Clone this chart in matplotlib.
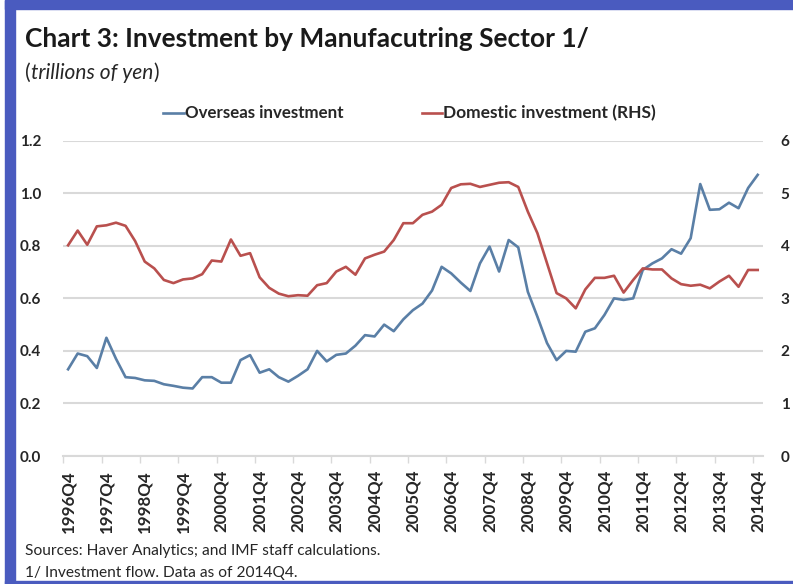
import matplotlib
matplotlib.use("Agg")
import matplotlib.pyplot as plt
from matplotlib.patches import Rectangle
from matplotlib.lines import Line2D

plt.rcParams["font.family"] = ["Lato", "DejaVu Sans"]

# Quarterly data, 1996Q4 - 2014Q4 (trillions of yen)
overseas = [
    0.33, 0.39, 0.38, 0.335, 0.45, 0.37, 0.30, 0.297, 0.288, 0.286,
    0.273, 0.267, 0.26, 0.257, 0.30, 0.30, 0.279, 0.279, 0.365, 0.384,
    0.317, 0.33, 0.30, 0.283, 0.305, 0.33, 0.40, 0.36, 0.385, 0.39,
    0.42, 0.46, 0.455, 0.50, 0.475, 0.52, 0.555, 0.58, 0.63, 0.72,
    0.695, 0.66, 0.628, 0.733, 0.797, 0.702, 0.822, 0.794, 0.625, 0.53,
    0.43, 0.365, 0.40, 0.397, 0.473, 0.486, 0.537, 0.60, 0.594, 0.60,
    0.708, 0.733, 0.752, 0.787, 0.77, 0.829, 1.035, 0.937, 0.939, 0.964,
    0.943, 1.02, 1.07,
]
domestic = [
    4.01, 4.29, 4.02, 4.37, 4.39, 4.44, 4.38, 4.09, 3.70, 3.57,
    3.35, 3.29, 3.36, 3.38, 3.46, 3.72, 3.70, 4.12, 3.81, 3.86,
    3.40, 3.20, 3.09, 3.04, 3.06, 3.05, 3.25, 3.29, 3.51, 3.60,
    3.45, 3.76, 3.83, 3.89, 4.11, 4.43, 4.43, 4.59, 4.65, 4.78,
    5.10, 5.17, 5.18, 5.12, 5.16, 5.20, 5.21, 5.12, 4.65, 4.24,
    3.67, 3.10, 3.00, 2.81, 3.17, 3.39, 3.39, 3.43, 3.11, 3.35,
    3.57, 3.55, 3.55, 3.38, 3.27, 3.24, 3.26, 3.19, 3.32, 3.43,
    3.22, 3.54, 3.54,
]
tick_labels = [
    "1996Q4", "1997Q4", "1998Q4", "1999Q4", "2000Q4", "2001Q4", "2002Q4",
    "2003Q4", "2004Q4", "2005Q4", "2006Q4", "2007Q4", "2008Q4", "2009Q4",
    "2010Q4", "2011Q4", "2012Q4", "2013Q4", "2014Q4",
]

blue = "#5a7fa6"
red = "#b9504e"
grid = "#d9d9d9"
txt = "#262626"
frame = "#4a5bbf"

W, H = 793, 584
fig = plt.figure(figsize=(W / 100, H / 100), dpi=100)
fig.patch.set_facecolor("white")


def fx(px):
    return px / W


def fy(py):
    return 1 - py / H


# blue frame on top, left and bottom
fig.patches.append(Rectangle((fx(5), fy(9)), 1, 9 / H, transform=fig.transFigure,
                             color=frame, zorder=0))
fig.patches.append(Rectangle((fx(5), 0), 10 / W, 1, transform=fig.transFigure,
                             color=frame, zorder=0))
fig.patches.append(Rectangle((fx(5), 0), 1, 3 / H, transform=fig.transFigure,
                             color=frame, zorder=0))

ax = fig.add_axes([fx(63.3), fy(456), 699.2 / W, 315.3 / H])
ax2 = ax.twinx()

x = list(range(len(overseas)))
ax.plot(x, overseas, color=blue, lw=1.9, zorder=3)
ax2.plot(x, domestic, color=red, lw=1.9, zorder=3)

ax.set_xlim(-0.5, len(overseas) - 0.5)
ax.set_ylim(0, 1.2)
ax2.set_ylim(0, 6)
ax.set_yticks([0, 0.2, 0.4, 0.6, 0.8, 1.0, 1.2])
ax.set_yticklabels(["0.0", "0.2", "0.4", "0.6", "0.8", "1.0", "1.2"])
ax2.set_yticks([0, 1, 2, 3, 4, 5, 6])

# labels sit on the category, tick marks between categories
ax.set_xticks([4 * k for k in range(len(tick_labels))])
ax.set_xticklabels(tick_labels, rotation=90)
ax.set_xticks([4 * k - 0.5 for k in range(len(tick_labels))], minor=True)

for a in (ax, ax2):
    for s in a.spines.values():
        s.set_visible(False)
ax.spines["bottom"].set_visible(True)
ax.spines["bottom"].set_color(grid)
ax.spines["bottom"].set_linewidth(1.5)
ax.grid(axis="y", color=grid, lw=1.5, zorder=0)
ax.set_axisbelow(True)

ax.tick_params(axis="x", which="major", length=0, pad=10,
               labelsize=12.2, labelcolor=txt)
ax.tick_params(axis="x", which="minor", length=5, width=1, color=grid)
ax.tick_params(axis="y", length=0, pad=16, labelsize=11, labelcolor=txt)
ax2.tick_params(axis="y", length=0, pad=13, labelsize=11, labelcolor=txt)
for lab in ax.get_xticklabels() + ax.get_yticklabels() + ax2.get_yticklabels():
    lab.set_fontweight("bold")

# titles
fig.text(fx(25), fy(47), "Chart 3: Investment by Manufacutring Sector 1/",
         fontsize=18.9, fontweight="bold", color="#1a1a1a", va="baseline", ha="left")

renderer = fig.canvas.get_renderer()
xpos = 25
for part, style in (("(", "normal"), ("trillions of yen", "italic"), (")", "normal")):
    t = fig.text(fx(xpos), fy(79), part, fontsize=15, style=style, color=txt,
                 va="baseline", ha="left")
    xpos = t.get_window_extent(renderer).x1

# legend
ly = fy(113)
fig.lines.append(Line2D([fx(163), fx(184)], [ly, ly], color=blue, lw=1.9,
                        transform=fig.transFigure))
fig.text(fx(185), ly, "Overseas investment", fontsize=12.2, fontweight="bold",
         color=txt, va="center", ha="left")
fig.lines.append(Line2D([fx(422), fx(442)], [ly, ly], color=red, lw=1.9,
                        transform=fig.transFigure))
fig.text(fx(443), ly, "Domestic investment (RHS)", fontsize=12.5, fontweight="bold",
         color=txt, va="center", ha="left")

# notes
fig.text(fx(25), fy(555), "Sources: Haver Analytics; and IMF staff calculations.",
         fontsize=11.2, color=txt, va="baseline", ha="left")
fig.text(fx(25), fy(577), "1/ Investment flow. Data as of 2014Q4.",
         fontsize=11.2, color=txt, va="baseline", ha="left")

fig.savefig("out.png", dpi=100)
